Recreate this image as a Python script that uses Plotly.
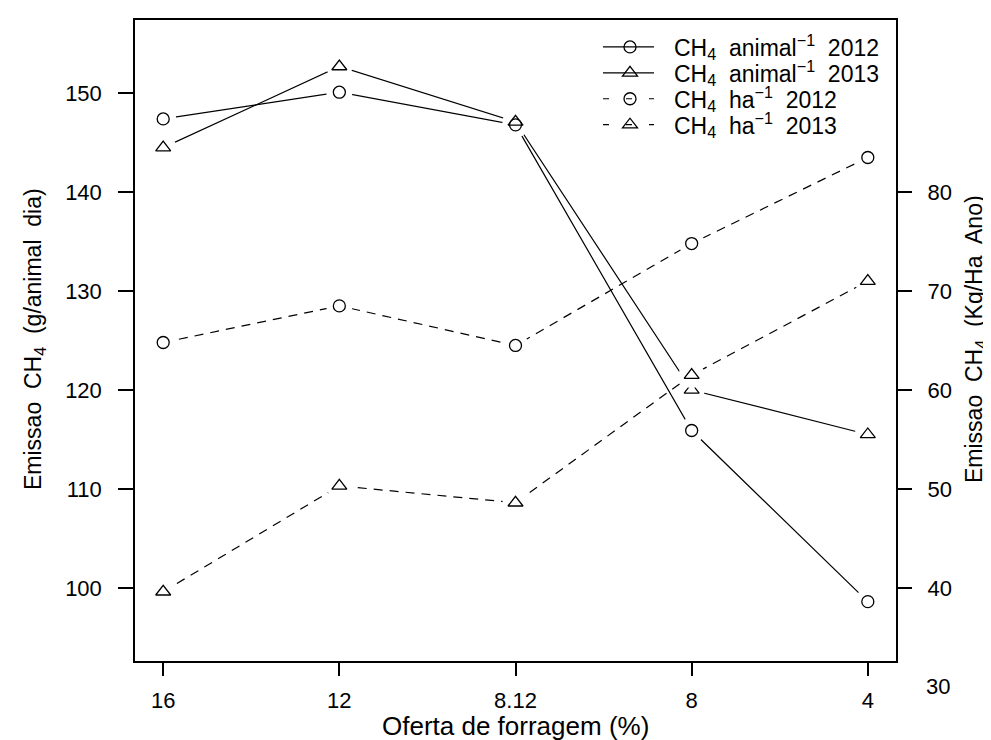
import plotly.graph_objects as go

# ---- data ----
categories = ["16", "12", "8.12", "8", "4"]
x_pos = [1, 2, 3, 4, 5]
animal_2012 = [147.4, 150.1, 146.8, 115.9, 98.6]
animal_2013 = [144.5, 152.7, 147.1, 120.0, 115.5]
ha_2012 = [64.8, 68.5, 64.5, 74.8, 83.5]
ha_2013 = [39.6, 50.3, 48.6, 61.5, 71.0]
left_ticks = [100, 110, 120, 130, 140, 150]
right_ticks = [40, 50, 60, 70, 80]
right_extra_label = 30
legend_names = [
    "CH<sub>4</sub>\u00a0 animal<sup>\u22121</sup>\u00a0 2012",
    "CH<sub>4</sub>\u00a0 animal<sup>\u22121</sup>\u00a0 2013",
    "CH<sub>4</sub>\u00a0 ha<sup>\u22121</sup>\u00a0 2012",
    "CH<sub>4</sub>\u00a0 ha<sup>\u22121</sup>\u00a0 2013",
]

FONT = "Liberation Sans, Arial, Helvetica, sans-serif"
TICK_SIZE = 22
W, H = 991, 740
L, R, T, B = 127, 103, 10, 87
PW, PH = W - L - R, H - T - B
Y_RANGE = [92.6, 157.4]
Y2_RANGE = [32.6, 97.4]
DASH = "9px,7px"


def px_x(x):
    return (x - L) / PW


def px_y(y):
    return (H - B - y) / PH


series = [
    (legend_names[0], animal_2012, "y", "circle-open", "solid"),
    (legend_names[1], animal_2013, "y", "triangle-up-open", "solid"),
    (legend_names[2], ha_2012, "y2", "circle-open", DASH),
    (legend_names[3], ha_2013, "y2", "triangle-up-open", DASH),
]
msize = {"circle-open": 12, "triangle-up-open": 13}

fig = go.Figure()
for name, vals, ax, sym, dash in series:
    fig.add_trace(go.Scatter(x=x_pos, y=vals, yaxis=ax, mode="lines",
                             line=dict(color="black", width=1.2, dash=dash),
                             showlegend=False, hoverinfo="skip"))
# white gaps around points (R type="b")
for name, vals, ax, sym, dash in series:
    fig.add_trace(go.Scatter(x=x_pos, y=vals, yaxis=ax, mode="markers",
                             marker=dict(symbol="circle", size=26, color="white",
                                         line=dict(width=0)),
                             showlegend=False, hoverinfo="skip"))
for name, vals, ax, sym, dash in series:
    fig.add_trace(go.Scatter(x=x_pos, y=vals, yaxis=ax, mode="markers", name=name,
                             marker=dict(symbol=sym, size=msize[sym], color="black",
                                         line=dict(width=1.3, color="black")),
                             showlegend=False))

fig.update_layout(
    width=W, height=H,
    margin=dict(l=L, r=R, t=T, b=B, pad=0),
    paper_bgcolor="white", plot_bgcolor="white",
    font=dict(family=FONT, size=TICK_SIZE, color="black"),
    showlegend=False,
    xaxis=dict(range=[0.84, 5.16], tickvals=x_pos, ticktext=categories,
               ticks="outside", ticklen=13, tickwidth=1.5, tickcolor="black",
               showline=True, linecolor="black", linewidth=1.5, mirror=True,
               showgrid=False, zeroline=False, ticklabelstandoff=6,
               tickfont=dict(size=TICK_SIZE)),
    yaxis=dict(range=Y_RANGE, tickvals=left_ticks,
               ticks="outside", ticklen=15, tickwidth=1.5, tickcolor="black",
               showline=True, linecolor="black", linewidth=1.5, mirror=True,
               showgrid=False, zeroline=False, ticklabelstandoff=12,
               tickfont=dict(size=TICK_SIZE)),
    yaxis2=dict(range=Y2_RANGE, tickvals=right_ticks, overlaying="y", side="right",
                ticks="outside", ticklen=15, tickwidth=1.5, tickcolor="black",
                showline=False, showgrid=False, zeroline=False, ticklabelstandoff=11,
                tickfont=dict(size=TICK_SIZE)),
)

# extra right-axis label (30) below the plotting region, as in the original
fig.add_annotation(x=1, xref="paper", xanchor="left", xshift=28,
                   y=(right_extra_label - Y2_RANGE[0]) / (Y2_RANGE[1] - Y2_RANGE[0]),
                   yref="paper", yanchor="middle", text=str(right_extra_label),
                   showarrow=False, font=dict(size=TICK_SIZE))

# axis titles
fig.add_annotation(x=0.5, xref="paper", y=px_y(718), yref="paper", yanchor="middle",
                   text="Oferta de forragem (%)", showarrow=False, font=dict(size=26))
fig.add_annotation(x=px_x(26), xref="paper", xanchor="center",
                   y=px_y(330), yref="paper", yanchor="middle", textangle=-90,
                   text="Emissao\u00a0 CH<sub>4</sub>\u00a0 (g/animal\u00a0 dia)",
                   showarrow=False, font=dict(size=23))
fig.add_annotation(x=px_x(967), xref="paper", xanchor="center",
                   y=px_y(330), yref="paper", yanchor="middle", textangle=-90,
                   text="Emissao\u00a0 CH<sub>4</sub>\u00a0 (Kg/Ha\u00a0 Ano)",
                   showarrow=False, font=dict(size=23))

# legend (R style, no box)
row_y = [37, 63, 89, 115]
leg_x0, leg_x1, leg_xm, leg_text = 595, 646, 622, 664
for i, (name, vals, ax, sym, dash) in enumerate(series):
    y = row_y[i]
    fig.add_shape(type="line", xref="paper", yref="paper",
                  x0=px_x(leg_x0), x1=px_x(leg_x1), y0=px_y(y), y1=px_y(y),
                  line=dict(color="black", width=1.2,
                            dash="solid" if dash == "solid" else "6px,17px"))
    if sym == "circle-open":
        r = 6
        fig.add_shape(type="circle", xref="paper", yref="paper",
                      x0=px_x(leg_xm - r), x1=px_x(leg_xm + r),
                      y0=px_y(y + r), y1=px_y(y - r),
                      line=dict(color="black", width=1.3))
    else:
        hw, yb, yt = 7.5, 3.25, 6.5
        path = "M {:.5f},{:.5f} L {:.5f},{:.5f} L {:.5f},{:.5f} Z".format(
            px_x(leg_xm - hw), px_y(y + yb), px_x(leg_xm + hw), px_y(y + yb),
            px_x(leg_xm), px_y(y - yt))
        fig.add_shape(type="path", xref="paper", yref="paper", path=path,
                      line=dict(color="black", width=1.3))
    fig.add_annotation(x=px_x(leg_text), xref="paper", xanchor="left",
                       y=px_y(y), yref="paper", yanchor="middle",
                       text=name, showarrow=False, font=dict(size=23))

fig.write_html("out.html")
